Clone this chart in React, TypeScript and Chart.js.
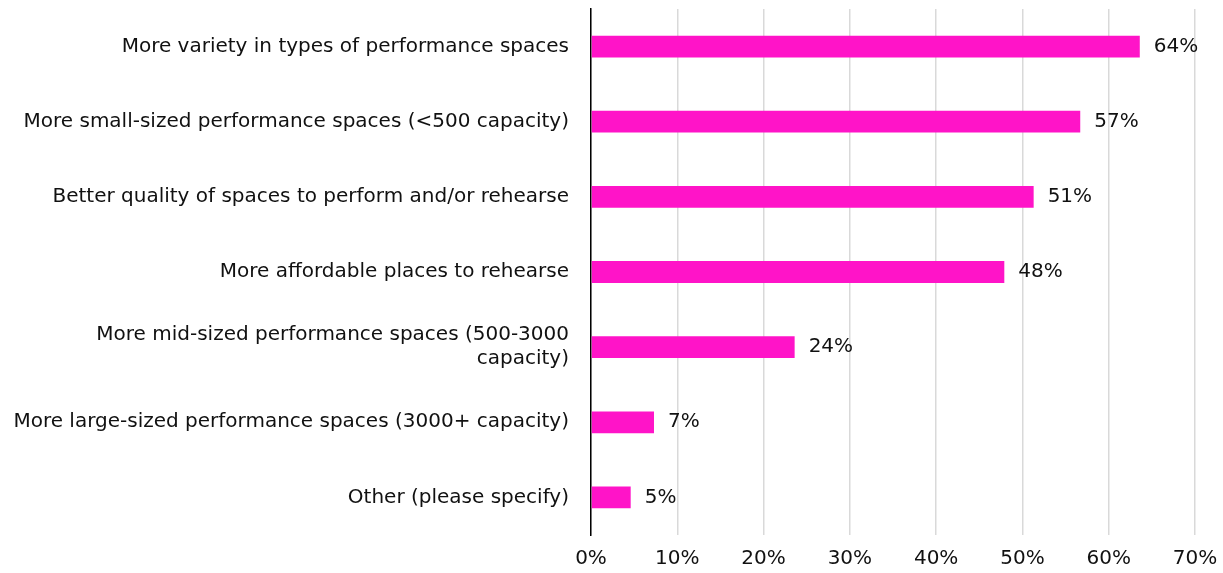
import React, { useEffect, useRef } from "react";
import { Chart, registerables } from "chart.js";

Chart.register(...registerables);

const categories: (string | string[])[] = [
  "More variety in types of performance spaces",
  "More small-sized performance spaces (<500 capacity)",
  "Better quality of spaces to perform and/or rehearse",
  "More affordable places to rehearse",
  ["More mid-sized performance spaces (500-3000", "capacity)"],
  "More large-sized performance spaces (3000+ capacity)",
  "Other (please specify)",
];
const values = [63.6, 56.7, 51.3, 47.9, 23.6, 7.3, 4.6];
const xTicks = [0, 10, 20, 30, 40, 50, 60, 70];

const FONT = "'DejaVu Sans', sans-serif";
const FS = 20;

const labelPlugin = {
  id: "barLabels",
  afterDatasetsDraw(chart: any) {
    const ctx = chart.ctx;
    const meta = chart.getDatasetMeta(0);
    ctx.save();
    ctx.font = `${FS}px ${FONT}`;
    ctx.fillStyle = "#111";
    ctx.textAlign = "left";
    ctx.textBaseline = "middle";
    meta.data.forEach((bar: any, i: number) => {
      ctx.fillText(Math.round(values[i]) + "%", bar.x + 14, bar.y);
    });
    ctx.restore();
  },
};

export default function App() {
  const ref = useRef<HTMLCanvasElement>(null);
  useEffect(() => {
    if (!ref.current) return;
    const chart = new Chart(ref.current, {
      type: "bar",
      data: {
        labels: categories,
        datasets: [
          {
            data: values,
            backgroundColor: "#ff14c8",
            borderWidth: 0,
            barPercentage: 0.29,
            categoryPercentage: 1,
          },
        ],
      },
      options: {
        indexAxis: "y",
        animation: false,
        responsive: false,
        maintainAspectRatio: false,
        layout: { padding: { top: 9, right: 28, bottom: 0, left: 0 } },
        plugins: { legend: { display: false }, tooltip: { enabled: false } },
        scales: {
          x: {
            min: 0,
            max: 70,
            afterBuildTicks: (axis: any) => {
              axis.ticks = xTicks.map((v) => ({ value: v }));
            },
            grid: { color: "#d9d9d9", lineWidth: 1.5, drawTicks: false },
            border: { display: false },
            ticks: {
              padding: 12,
              color: "#111",
              font: { family: FONT, size: FS },
              callback: (v: any) => v + "%",
            },
            afterFit: (axis: any) => {
              axis.height = 38;
              axis.paddingLeft = 0;
              axis.paddingRight = 0;
            },
          },
          y: {
            grid: { display: false, drawTicks: false },
            border: { display: true, color: "#000", width: 1.5 },
            ticks: {
              padding: 22,
              color: "#111",
              font: { family: FONT, size: FS },
            },
            afterFit: (axis: any) => {
              axis.width = 591;
              axis.paddingTop = 0;
              axis.paddingBottom = 0;
            },
          },
        },
      },
      plugins: [labelPlugin],
    });
    return () => chart.destroy();
  }, []);
  return (
    <div style={{ position: "absolute", left: 0, top: 0, width: 1223, height: 573, background: "#fff" }}>
      <canvas ref={ref} width={1223} height={573} />
    </div>
  );
}
